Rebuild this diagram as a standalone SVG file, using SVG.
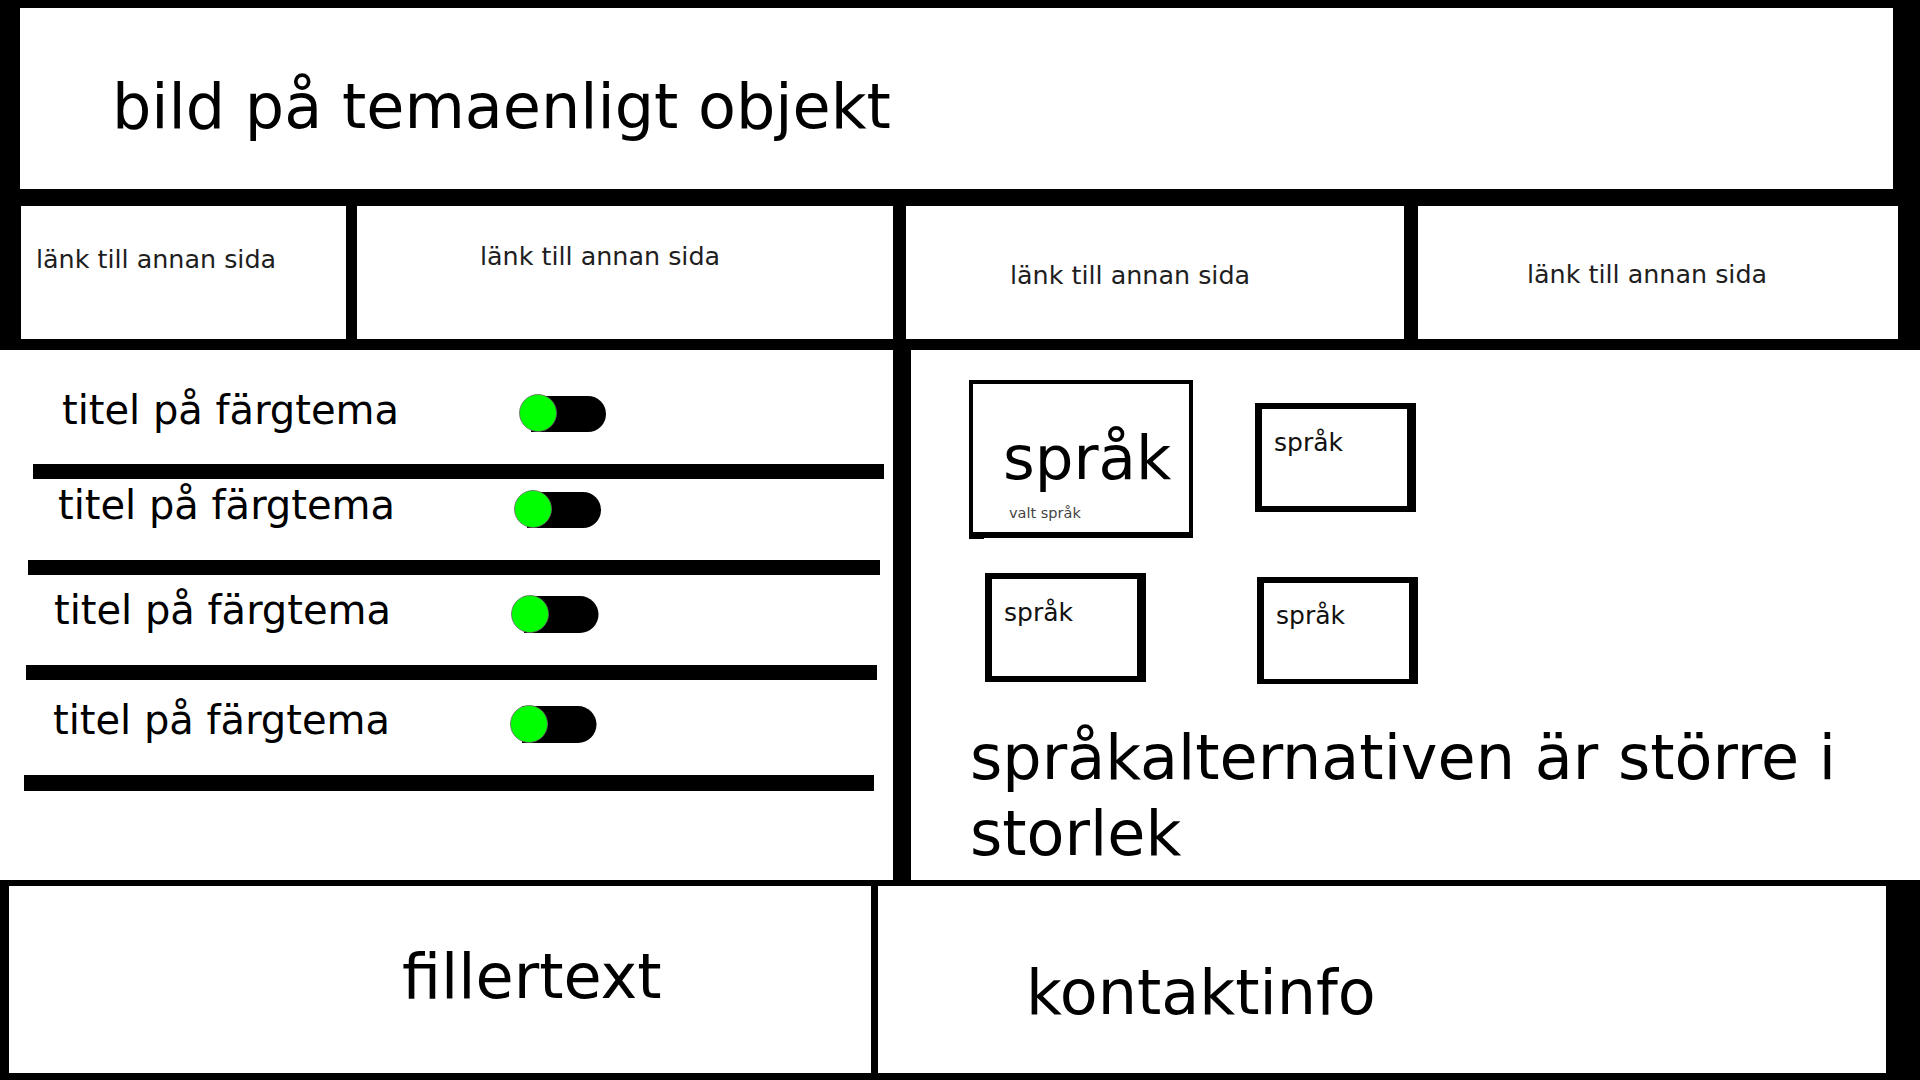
<svg xmlns="http://www.w3.org/2000/svg" width="1920" height="1080" viewBox="0 0 1920 1080">
  <style>
    .t { font-family: "DejaVu Sans", "Liberation Sans", sans-serif; fill: #000; }
    .big { font-size: 62px; }
    .link { font-size: 25.4px; fill: #1e1e1e; }
    .row { font-size: 40px; }
    .small { font-size: 25px; fill: #111; }
    .tiny { font-size: 14.5px; fill: #444; }
    .blk { fill: #000; }
    .wht { fill: #fff; }
    .knob { fill: #00ff00; stroke: #6a6a6a; stroke-width: 0.8; }
  </style>
  <rect x="0" y="0" width="1920" height="1080" fill="#fff"/>

  <g id="frame">
    <rect class="blk" x="0" y="0" width="1920" height="350"/>
    <rect class="blk" x="893" y="350" width="18" height="530"/>
    <rect class="blk" x="0" y="880" width="1920" height="200"/>
  </g>

  <g id="header">
    <rect class="wht" x="20" y="8" width="1873" height="181"/>
    <text class="t big" x="112" y="128">bild på temaenligt objekt</text>
  </g>

  <g id="link1">
    <rect class="wht" x="21" y="206" width="325" height="133"/>
    <text class="t link" x="36" y="268">länk till annan sida</text>
  </g>
  <g id="link2">
    <rect class="wht" x="357" y="206" width="536" height="133"/>
    <text class="t link" x="480" y="265">länk till annan sida</text>
  </g>
  <g id="link3">
    <rect class="wht" x="906" y="206" width="498" height="133"/>
    <text class="t link" x="1010" y="284">länk till annan sida</text>
  </g>
  <g id="link4">
    <rect class="wht" x="1418" y="206" width="480" height="133"/>
    <text class="t link" x="1527" y="283">länk till annan sida</text>
  </g>

  <g id="theme1">
    <text class="t row" x="62" y="424">titel på färgtema</text>
    <rect class="blk" x="531" y="396" width="57" height="36"/>
    <circle class="blk" cx="588" cy="414" r="18"/>
    <circle class="knob" cx="538" cy="413" r="18.5"/>
    <rect class="blk" x="33" y="464" width="851" height="15"/>
  </g>
  <g id="theme2">
    <text class="t row" x="58" y="519">titel på färgtema</text>
    <rect class="blk" x="527" y="492" width="56" height="36"/>
    <circle class="blk" cx="583" cy="510" r="18"/>
    <circle class="knob" cx="533" cy="509" r="18.5"/>
    <rect class="blk" x="28" y="560" width="852" height="15"/>
  </g>
  <g id="theme3">
    <text class="t row" x="54" y="624">titel på färgtema</text>
    <rect class="blk" x="524" y="596" width="56" height="37"/>
    <circle class="blk" cx="580" cy="614.5" r="18.5"/>
    <circle class="knob" cx="530" cy="614" r="18.5"/>
    <rect class="blk" x="26" y="665" width="851" height="15"/>
  </g>
  <g id="theme4">
    <text class="t row" x="53" y="734">titel på färgtema</text>
    <rect class="blk" x="522" y="706" width="56" height="37"/>
    <circle class="blk" cx="578" cy="724.5" r="18.5"/>
    <circle class="knob" cx="529" cy="724" r="18.5"/>
    <rect class="blk" x="24" y="775" width="850" height="16"/>
  </g>

  <g id="lang-selected">
    <rect class="blk" x="969" y="380" width="224" height="158"/>
    <rect class="wht" x="973" y="384" width="216" height="148"/>
    <rect class="blk" x="969" y="536" width="15" height="3"/>
    <text class="t big" x="1003" y="479" style="font-size:61px">språk</text>
    <text class="t tiny" x="1009" y="518">valt språk</text>
  </g>
  <g id="lang2">
    <rect class="blk" x="1255" y="403" width="161" height="109"/>
    <rect class="wht" x="1262" y="409" width="145" height="97"/>
    <text class="t small" x="1274" y="451">språk</text>
  </g>
  <g id="lang3">
    <rect class="blk" x="985" y="573" width="161" height="109"/>
    <rect class="wht" x="992" y="579" width="145" height="97"/>
    <text class="t small" x="1004" y="621">språk</text>
  </g>
  <g id="lang4">
    <rect class="blk" x="1257" y="577" width="161" height="107"/>
    <rect class="wht" x="1264" y="583" width="145" height="96"/>
    <text class="t small" x="1276" y="624">språk</text>
  </g>

  <g id="lang-note">
    <text class="t big" x="970" y="779">språkalternativen är större i</text>
    <text class="t big" x="970" y="855">storlek</text>
  </g>

  <g id="footer-filler">
    <rect class="wht" x="9" y="886" width="862" height="187"/>
    <text class="t big" x="402" y="998">fillertext</text>
  </g>
  <g id="footer-contact">
    <rect class="wht" x="878" y="886" width="1008" height="187"/>
    <text class="t big" x="1026" y="1014">kontaktinfo</text>
  </g>
</svg>
